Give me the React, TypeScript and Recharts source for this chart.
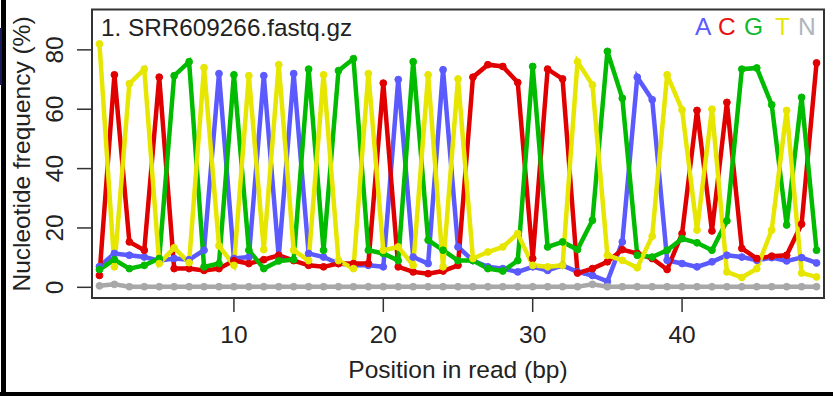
import { LineChart, Line, XAxis, YAxis, ReferenceArea } from 'recharts';

const positions = [
  1, 2, 3, 4, 5, 6, 7, 8, 9, 10, 11, 12, 13, 14, 15, 16, 17, 18, 19, 20,
  21, 22, 23, 24, 25, 26, 27, 28, 29, 30, 31, 32, 33, 34, 35, 36, 37, 38, 39, 40,
  41, 42, 43, 44, 45, 46, 47, 48, 49,
];

// per-base frequencies (%)
const aFreq = [
  7, 11.4, 10.8, 10.2, 9, 9.7, 9.3, 12.5, 72, 9.7,
  10.2, 71.3, 10.2, 72, 11.4, 10.2, 8, 7.4, 7.4, 6.9,
  70, 10.2, 8, 73.3, 13.6, 9, 6.9, 6.3, 5.2, 6.9,
  5.7, 7.4, 5.2, 4, 2, 15.3, 70.8, 63.2, 9.1, 8,
  6.9, 8.6, 10.8, 10.2, 9.1, 10, 8.9, 10, 8.2,
];
const cFreq = [
  4, 71.6, 15.3, 12.5, 70.8, 6.3, 6.3, 5.7, 6.3, 9,
  8, 9.3, 10.8, 9, 7.4, 6.9, 8, 8, 8, 68.8,
  6.9, 5.2, 4.6, 5.5, 7.4, 70.8, 75, 74.4, 69, 9.7,
  73.5, 70.2, 4.8, 6.3, 8.6, 12.7, 11.4, 9.7, 6, 18.1,
  59.6, 19, 62.3, 13.1, 9.7, 10.5, 10.8, 21.3, 75.6,
];
const gFreq = [
  6, 9.3, 6.3, 7.4, 9.7, 71.3, 76, 6.9, 8, 71.6,
  12.5, 6.3, 8.9, 9.3, 73.5, 12.5, 73, 77, 12.5, 11.4,
  9, 76, 15.9, 12.5, 9, 9, 6.3, 5.5, 9, 74.4,
  13.6, 15.3, 12.7, 22.6, 79.5, 63.7, 10.8, 10.2, 12.5, 16.4,
  15, 12.5, 22.4, 73.5, 73.9, 61.5, 21, 64, 12.5,
];
const tFreq = [
  82, 6.9, 68.6, 73.5, 8, 13.3, 8.3, 74, 14, 7.4,
  71.3, 12.7, 75, 12.5, 9, 71.6, 9, 6.3, 72, 12.5,
  13.6, 7.4, 71.6, 6.9, 70.2, 9.7, 11.9, 13.6, 18.1, 7.4,
  6.9, 7.4, 76, 68.2, 10.8, 9.1, 6.6, 17.2, 71.6, 59.8,
  19.3, 60, 5.2, 3.3, 6.3, 19.3, 59.6, 4.8, 3.5,
];
const nFreq = [
  0.5, 1, 0.2, 0.2, 0.2, 0.2, 0.2, 0.2, 0.2, 0.2,
  0.2, 0.2, 0.2, 0.2, 0.2, 0.2, 0.2, 0.2, 0.2, 0.2,
  0.2, 0.2, 0.2, 0.2, 0.2, 0.2, 0.2, 0.2, 0.2, 0.2,
  0.2, 0.2, 0.2, 1, 0.2, 0.2, 0.2, 0.2, 0.2, 0.2,
  0.2, 0.2, 0.2, 0.2, 0.2, 0.2, 0.2, 0.2, 0.2,
];

const xTicks = [10, 20, 30, 40];
const yTicks = [0, 20, 40, 60, 80];

const series = [
  { key: 'A', color: '#5a5aff' },
  { key: 'C', color: '#e00000' },
  { key: 'G', color: '#00bb00' },
  { key: 'T', color: '#e6e600' },
  { key: 'N', color: '#a8a8a8' },
];

const data = positions.map((pos, i) => ({
  pos,
  A: aFreq[i],
  C: cFreq[i],
  G: gFreq[i],
  T: tFreq[i],
  N: nFreq[i],
}));

const legendLetters = [
  { text: 'A', color: '#5a5aff', left: 695 },
  { text: 'C', color: '#e81010', left: 718 },
  { text: 'G', color: '#10b830', left: 744 },
  { text: 'T', color: '#e6e600', left: 775 },
  { text: 'N', color: '#b0b4bc', left: 798 },
];

const FONT = 24.5;

const YTick = (props: any) => {
  const { x, y, payload } = props;
  return (
    <text x={x} y={y} transform={`rotate(-90 ${x} ${y})`} textAnchor="middle" fontSize={FONT} fill="#222">
      {payload.value}
    </text>
  );
};

export default function App() {
  return (
    <div
      style={{
        position: 'absolute',
        left: 0,
        top: 0,
        width: 833,
        height: 396,
        background: '#fff',
        fontFamily: '"Liberation Sans", Arial, sans-serif',
        overflow: 'hidden',
      }}
    >
      <LineChart width={833} height={396} data={data} margin={{ top: 9.5, right: 9, left: 32, bottom: 38 }}>
        <ReferenceArea x1={0.5} x2={49.5} y1={-3.6} y2={93.6} fill="none" stroke="#333" strokeWidth={2} />
        <XAxis
          dataKey="pos"
          type="number"
          domain={[0.5, 49.5]}
          ticks={xTicks}
          allowDataOverflow
          axisLine={false}
          tickLine={{ stroke: '#333', strokeWidth: 1.5 }}
          tickSize={14}
          tickMargin={14}
          height={60}
          tick={{ fontSize: FONT, fill: '#222' }}
          label={() => (
            <text x={458} y={378} textAnchor="middle" fontSize={FONT} fill="#222">
              Position in read (bp)
            </text>
          )}
        />
        <YAxis
          type="number"
          domain={[-3.6, 93.6]}
          ticks={yTicks}
          allowDataOverflow
          axisLine={false}
          tickLine={{ stroke: '#333', strokeWidth: 1.5 }}
          tickSize={15}
          tickMargin={14}
          width={60}
          tick={<YTick />}
          label={() => (
            <text x={30} y={154} transform="rotate(-90 30 154)" textAnchor="middle" fontSize={FONT} fill="#222">
              Nucleotide frequency (%)
            </text>
          )}
        />
        {series.map((s) => (
          <Line
            key={s.key}
            type="linear"
            dataKey={s.key}
            stroke={s.color}
            strokeWidth={4.5}
            dot={{ r: 3.4, fill: s.color, stroke: s.color, strokeWidth: 1 }}
            isAnimationActive={false}
          />
        ))}
      </LineChart>
      <div style={{ position: 'absolute', left: 101, top: 13.5, fontSize: 24.3, color: '#222', lineHeight: '28px' }}>
        1. SRR609266.fastq.gz
      </div>
      {legendLetters.map((l) => (
        <div
          key={l.text}
          style={{ position: 'absolute', left: l.left, top: 13, fontSize: FONT, color: l.color, lineHeight: '28px' }}
        >
          {l.text}
        </div>
      ))}
      <div style={{ position: 'absolute', left: 1, top: 0, width: 5, height: 396, background: '#000' }} />
      <div style={{ position: 'absolute', left: 0, top: 28, width: 2, height: 57, background: '#1a1a5a' }} />
      <div style={{ position: 'absolute', left: 0, top: 392, width: 833, height: 4, background: '#000' }} />
    </div>
  );
}
